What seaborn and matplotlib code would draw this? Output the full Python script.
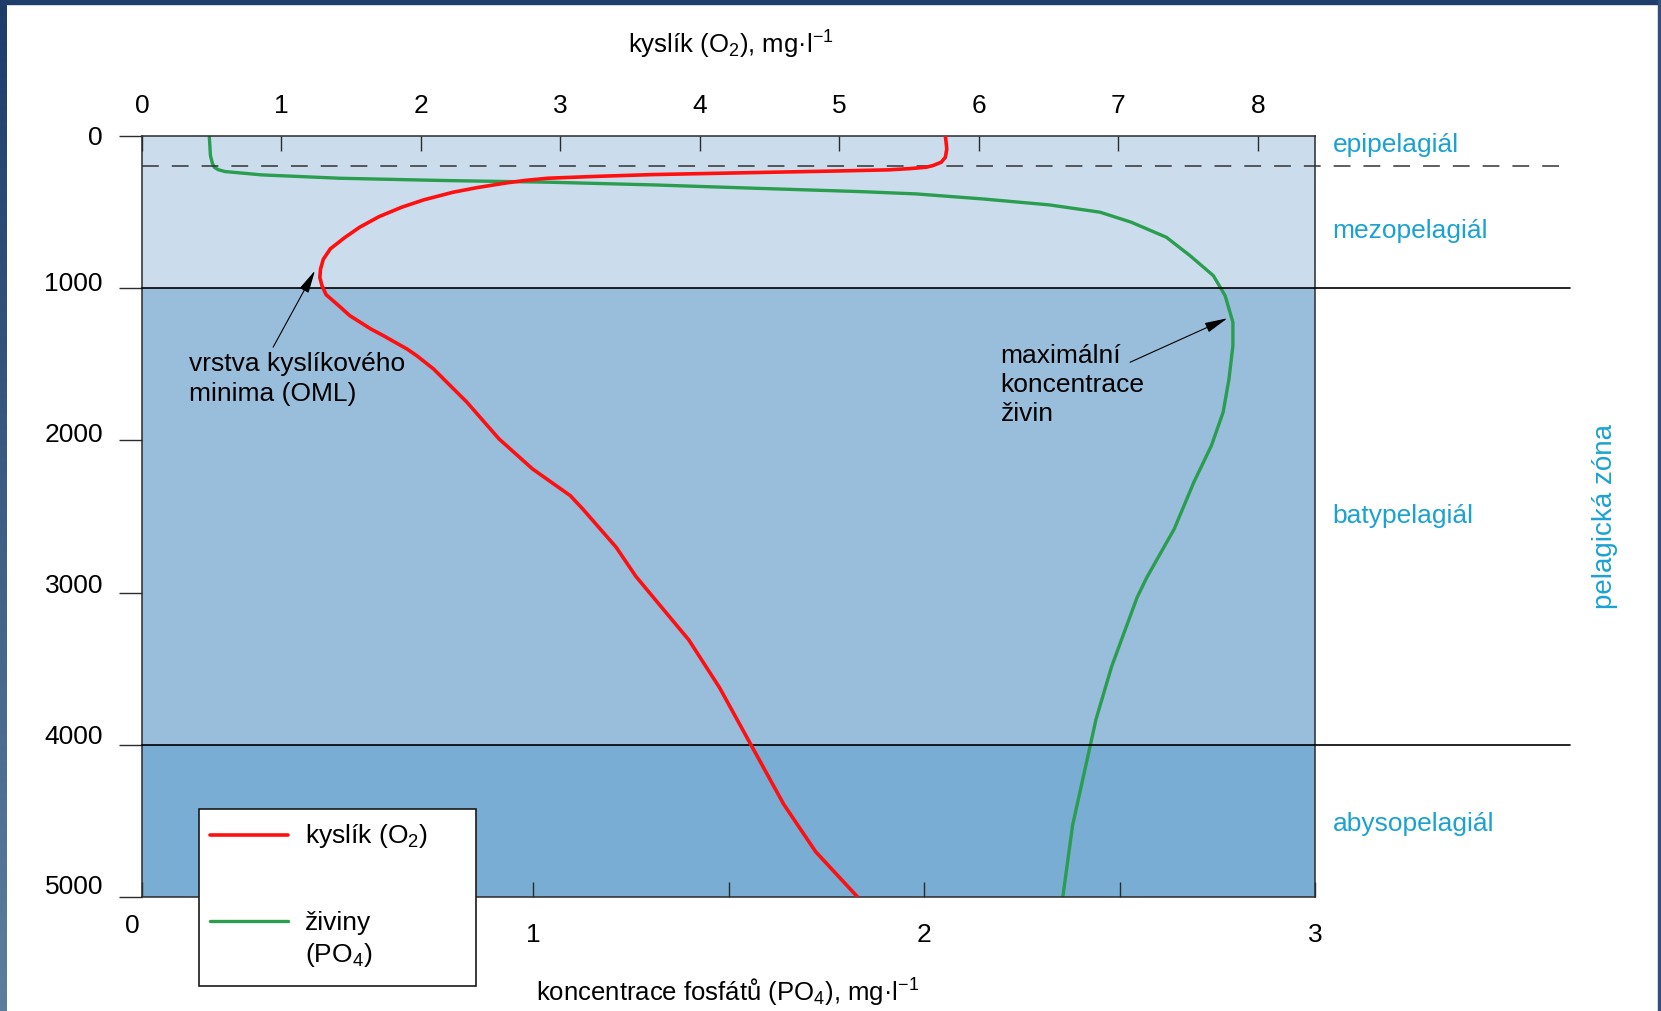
import numpy as np
import pandas as pd
import seaborn as sns
import matplotlib.pyplot as plt
import matplotlib.transforms as mtransforms
from matplotlib.patches import Rectangle
from matplotlib.lines import Line2D
from matplotlib.colors import LinearSegmentedColormap

# Profil kysliku O2 (mg/l) podle hloubky (m)
o2_depth = [0, 85, 140, 173, 195, 206, 215, 223, 231, 239, 254, 266, 278, 292, 309, 340,
            370, 420, 469, 530, 600, 670, 742, 810, 874, 930, 983, 1043, 1115, 1181, 1268,
            1312, 1400, 1444, 1531, 1750, 1991, 2188, 2363, 2451, 2703, 2893, 3311, 3624,
            4007, 4390, 4703, 5000]
o2_conc = [5.76, 5.77, 5.76, 5.73, 5.67, 5.62, 5.50, 5.35, 4.95, 4.49, 3.66, 3.25, 2.91, 2.75,
           2.61, 2.40, 2.23, 2.02, 1.86, 1.70, 1.56, 1.45, 1.35, 1.30, 1.28, 1.275, 1.29, 1.32,
           1.41, 1.49, 1.64, 1.73, 1.90, 1.97, 2.09, 2.33, 2.56, 2.80, 3.07, 3.16, 3.40, 3.54,
           3.92, 4.14, 4.37, 4.60, 4.83, 5.13]

# Profil zivin (fosfaty PO4, mg/l) podle hloubky (m)
po4_depth = [0, 129, 180, 206, 222, 234, 256, 278, 293, 304, 322, 344, 366, 381, 414, 453,
             501, 567, 666, 786, 918, 1049, 1224, 1378, 1597, 1815, 2035, 2276, 2582, 2900,
             3032, 3485, 3832, 4181, 4529, 5000]
po4_conc = [0.172, 0.175, 0.180, 0.185, 0.195, 0.212, 0.306, 0.505, 0.772, 1.04, 1.31, 1.57,
            1.84, 1.98, 2.15, 2.32, 2.45, 2.53, 2.62, 2.68, 2.74, 2.77, 2.79, 2.79, 2.78,
            2.765, 2.735, 2.69, 2.64, 2.57, 2.545, 2.48, 2.44, 2.41, 2.38, 2.355]

# Zony
zone_limits = [0, 1000, 4000, 5000]
zone_colors = ['#CBDDEC', '#98BEDB', '#79ADD3']
zone_names = ['epipelagiál', 'mezopelagiál', 'batypelagiál', 'abysopelagiál']
zone_label_depth = [53, 618, 2490, 4514]
epi_limit = 200
depth_ticks = [0, 1000, 2000, 3000, 4000, 5000]
o2_ticks = [0, 1, 2, 3, 4, 5, 6, 7, 8]
po4_ticks = [0, 1, 2, 3]

red = '#FF1010'
green = '#2A9D4E'
cyan = '#1BA2D3'

sns.set_theme(style='white')
plt.rcParams['font.family'] = ['Liberation Sans', 'DejaVu Sans']
plt.rcParams['mathtext.fontset'] = 'custom'
plt.rcParams['mathtext.rm'] = 'Liberation Sans'
plt.rcParams['mathtext.it'] = 'Liberation Sans:italic'
plt.rcParams['mathtext.bf'] = 'Liberation Sans:bold'
plt.rcParams.update({'text.color': 'black', 'axes.labelcolor': 'black',
                     'xtick.labelcolor': 'black', 'ytick.labelcolor': 'black'})

fig = plt.figure(figsize=(16.61, 10.12), dpi=100)
ax = fig.add_axes([0.0855, 0.1127, 0.7062, 0.7520])

# pozadi - zony
for top, bottom, col in zip(zone_limits[:-1], zone_limits[1:], zone_colors):
    ax.axhspan(top, bottom, color=col, zorder=0, lw=0)

df_po4 = pd.DataFrame({'hloubka': po4_depth, 'PO4': po4_conc})
sns.lineplot(data=df_po4, x='PO4', y='hloubka', orient='y', sort=False, estimator=None,
             color=green, lw=2.4, ax=ax)

ax_top = ax.twiny()
df_o2 = pd.DataFrame({'hloubka': o2_depth, 'O2': o2_conc})
sns.lineplot(data=df_o2, x='O2', y='hloubka', orient='y', sort=False, estimator=None,
             color=red, lw=2.6, ax=ax_top)

ax.set_xlim(0, 3)
ax_top.set_xlim(0, 8.41)
ax.set_ylim(5000, 0)

for s in ax.spines.values():
    s.set_color('#2b2b2b')
    s.set_linewidth(1.1)
for s in ax_top.spines.values():
    s.set_visible(False)

# osy a popisky
ax.set_xticks(po4_ticks)
ax.set_xticks([0.5, 1.5, 2.5], minor=True)
ax.tick_params(axis='x', which='both', direction='in', length=10.8, width=1.0,
               color='#2b2b2b', labelsize=19, pad=18, bottom=True, top=False)
ax.set_yticks(depth_ticks)
ax.tick_params(axis='y', direction='out', length=16.6, width=1.0, color='#2b2b2b',
               labelsize=19, pad=11.5, left=True)
ax_top.set_xticks(o2_ticks)
ax_top.tick_params(axis='x', direction='in', length=10.8, width=1.0, color='#2b2b2b',
                   labelsize=19, pad=13.7, top=True, bottom=False)

y_shift = [1.4, 7.4, 9.2, 9.9, 11.7, 13.5]
for lbl, dy in zip(ax.get_yticklabels(), y_shift):
    lbl.set_transform(lbl.get_transform() +
                      mtransforms.ScaledTranslation(0, dy / 100, fig.dpi_scale_trans))
lbl0 = ax.get_xticklabels()[0]
lbl0.set_transform(lbl0.get_transform() +
                   mtransforms.ScaledTranslation(-10 / 100, 9 / 100, fig.dpi_scale_trans))

ax.set_ylabel('')
ax.set_xlabel('koncentrace fosfátů (PO$_4$), mg·l$^{-1}$', fontsize=18.5)
ax.xaxis.set_label_coords(0.4993, -0.1243)
ax.xaxis.label.set_va('center')
ax_top.set_xlabel('kyslík (O$_2$), mg·l$^{-1}$', fontsize=18.5)
ax_top.xaxis.set_label_coords(0.502, 1.1215)
ax_top.xaxis.label.set_va('center')

# hranice zon
trans = ax.get_yaxis_transform()
for d in zone_limits[1:-1]:
    ax.plot([0, 1.2174], [d, d], transform=trans, color='black', lw=1.2,
            clip_on=False, zorder=3)
ax.plot([0, 1.2174], [epi_limit, epi_limit], transform=trans, color='#333333', lw=1.1,
        ls=(0, (11, 8.5)), clip_on=False, zorder=3)

for name, d in zip(zone_names, zone_label_depth):
    ax.text(1.015, d, name, transform=trans, color=cyan, fontsize=19,
            va='center', ha='left')
ax.text(1.2472, 2497, 'pelagická zóna', transform=trans, color=cyan, fontsize=20,
        rotation=90, va='center', ha='center')

# anotace
arrow = dict(arrowstyle='-|>,head_length=1.0,head_width=0.22', mutation_scale=14,
             color='black', lw=0.8, shrinkA=0, shrinkB=0)
ax_top.annotate('', xy=(1.24, 885), xytext=(0.94, 1388), arrowprops=arrow)
ax_top.text(0.34, 1590, 'vrstva kyslíkového\nminima (OML)', fontsize=19,
            va='center', ha='left', linespacing=1.28)
ax.annotate('', xy=(2.776, 1198), xytext=(2.527, 1487), arrowprops=arrow)
ax.text(2.196, 1630, 'maximální\nkoncentrace\nživin', fontsize=19,
        va='center', ha='left', linespacing=1.28)

# legenda (rucne, druhy popisek je dvouradkovy)
W, H = 1661, 1012
fig.patches.append(Rectangle((199 / W, 1 - 987 / H), 277 / W, 177 / H,
                             transform=fig.transFigure, facecolor='white',
                             edgecolor='#1a1a1a', lw=1.2, zorder=20))
fig.lines.append(Line2D([210 / W, 288 / W], [1 - 836 / H] * 2, transform=fig.transFigure,
                        color=red, lw=2.6, zorder=21))
fig.lines.append(Line2D([210 / W, 288 / W], [1 - 922 / H] * 2, transform=fig.transFigure,
                        color=green, lw=2.4, zorder=21))
fig.text(305 / W, 1 - 836 / H, 'kyslík (O$_2$)', fontsize=19, va='center', ha='left', zorder=22)
fig.text(305 / W, 1 - 922.6 / H, 'živiny', fontsize=19, va='center', ha='left', zorder=22)
fig.text(305 / W, 1 - 955.5 / H, '(PO$_4$)', fontsize=19, va='center', ha='left', zorder=22)

# tmave modry ramecek obrazku
fig.patches.append(Rectangle((0, 1 - 4.5 / H), 1, 4.5 / H, transform=fig.transFigure,
                             color='#1F3D6B', zorder=30))
fig.patches.append(Rectangle((1 - 3 / W, 0), 3 / W, 1, transform=fig.transFigure,
                             color='#2F4F7A', zorder=30))
ax_bar = fig.add_axes([0, 0, 7 / W, 1])
ax_bar.imshow(np.linspace(0, 1, 256).reshape(-1, 1), aspect='auto', origin='upper',
              cmap=LinearSegmentedColormap.from_list('ramecek', ['#1E3C6A', '#5C7E9E']))
ax_bar.axis('off')

fig.savefig('out.png', dpi=100)
